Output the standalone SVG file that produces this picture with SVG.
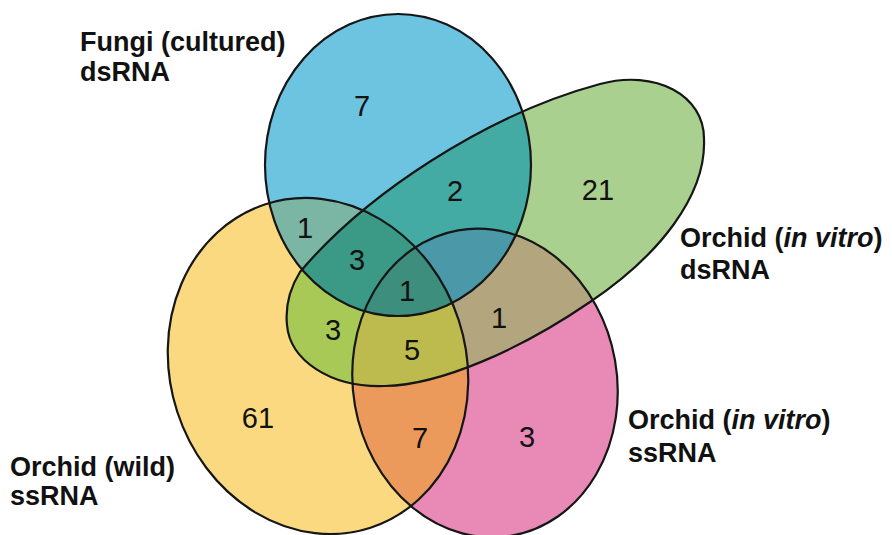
<svg xmlns="http://www.w3.org/2000/svg" xmlns:xlink="http://www.w3.org/1999/xlink" width="892" height="535" viewBox="0 0 892 535">
<style>
.lbl{font-family:"Liberation Sans",Arial,Helvetica,sans-serif;font-weight:bold;font-size:27px;fill:#111}
.num{font-family:"Liberation Sans",Arial,Helvetica,sans-serif;font-size:29px;fill:#111;text-anchor:middle}
.out{fill:none;stroke:#161616;stroke-width:2.2}
</style>
<defs>
<ellipse id="shB" cx="398" cy="165" rx="133" ry="151"/>
<path id="shG" d="M300,272 C365,195 485,115 600,84 C655,69 705,95 704,140 C706,195 660,255 590,302 C520,350 440,385 385,386 C330,388 290,360 287,325 C285,305 290,288 300,272 Z"/>
<ellipse id="shY" cx="318" cy="366" rx="148" ry="170" transform="rotate(-18 318 366)"/>
<ellipse id="shP" cx="485" cy="383" rx="132" ry="155" transform="rotate(-10 485 383)"/>
<clipPath id="cB"><use xlink:href="#shB"/></clipPath>
<clipPath id="cG"><use xlink:href="#shG"/></clipPath>
<clipPath id="cY"><use xlink:href="#shY"/></clipPath>
<clipPath id="cP"><use xlink:href="#shP"/></clipPath>
</defs>
<rect width="892" height="535" fill="#ffffff"/>
<g id="regions">
<use xlink:href="#shY" fill="#FBD981"/>
<use xlink:href="#shP" fill="#E889B6"/>
<use xlink:href="#shG" fill="#A9D08E"/>
<use xlink:href="#shB" fill="#6DC4E0"/>
<use xlink:href="#shB" clip-path="url(#cG)" fill="#43ABA3"/>
<use xlink:href="#shB" clip-path="url(#cY)" fill="#7BB5A3"/>
<use xlink:href="#shB" clip-path="url(#cP)" fill="#4A98A8"/>
<use xlink:href="#shG" clip-path="url(#cY)" fill="#A9C957"/>
<use xlink:href="#shG" clip-path="url(#cP)" fill="#B3A67E"/>
<use xlink:href="#shY" clip-path="url(#cP)" fill="#EC9A5C"/>
<g clip-path="url(#cY)"><use xlink:href="#shB" clip-path="url(#cG)" fill="#3A9A85"/></g>
<g clip-path="url(#cP)"><use xlink:href="#shB" clip-path="url(#cG)" fill="#4A98A8"/></g>
<g clip-path="url(#cP)"><use xlink:href="#shG" clip-path="url(#cY)" fill="#BDBA4E"/></g>
<g clip-path="url(#cP)"><use xlink:href="#shB" clip-path="url(#cY)" fill="#3E8E7D"/></g>
</g>
<g id="set-orchid-wild-ssRNA">
<use xlink:href="#shY" class="out"/>
<text class="lbl" x="10" y="476">Orchid (wild)</text>
<text class="lbl" x="10" y="505">ssRNA</text>
</g>
<g id="set-orchid-invitro-ssRNA">
<use xlink:href="#shP" class="out"/>
<text class="lbl" x="628" y="429">Orchid (<tspan font-style="italic">in vitro</tspan>)</text>
<text class="lbl" x="628" y="462">ssRNA</text>
</g>
<g id="set-orchid-invitro-dsRNA">
<use xlink:href="#shG" class="out"/>
<text class="lbl" x="680" y="247">Orchid (<tspan font-style="italic">in vitro</tspan>)</text>
<text class="lbl" x="680" y="279">dsRNA</text>
</g>
<g id="set-fungi-dsRNA">
<use xlink:href="#shB" class="out"/>
<text class="lbl" x="80" y="51">Fungi (cultured)</text>
<text class="lbl" x="80" y="81">dsRNA</text>
</g>
<g id="counts">
<text class="num" x="362" y="116">7</text>
<text class="num" x="455" y="201">2</text>
<text class="num" x="598" y="200">21</text>
<text class="num" x="305" y="238">1</text>
<text class="num" x="357" y="270">3</text>
<text class="num" x="407" y="301">1</text>
<text class="num" x="333" y="340">3</text>
<text class="num" x="412" y="360">5</text>
<text class="num" x="499" y="328">1</text>
<text class="num" x="258" y="428">61</text>
<text class="num" x="420" y="448">7</text>
<text class="num" x="527" y="447">3</text>
</g>
</svg>
